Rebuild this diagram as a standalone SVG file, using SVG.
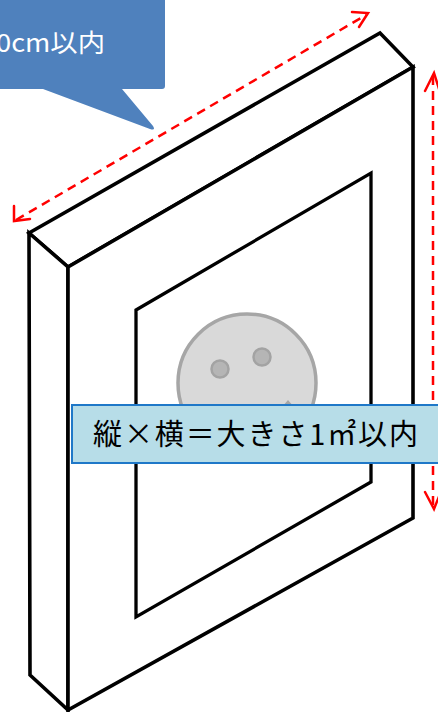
<svg xmlns="http://www.w3.org/2000/svg" width="438" height="712" viewBox="0 0 438 712">
<style>
.frame{fill:#ffffff;stroke:#000000;stroke-width:3.6;stroke-linejoin:miter}
.inner{fill:none;stroke:#000000;stroke-width:3.3;stroke-linejoin:miter}
.dim{fill:none;stroke:#ff0000;stroke-width:2.5;stroke-dasharray:9 6}
.head{fill:none;stroke:#ff0000;stroke-width:2.5;stroke-linecap:round}
.jp{font-family:"Noto Sans CJK JP","Noto Sans",sans-serif}
</style>
<rect x="0" y="0" width="438" height="712" fill="#ffffff"/>
<g id="frame">
  <polygon class="frame" points="29,233 380,33 413,67 68,267"/>
  <polygon class="frame" points="29,233 68,267 68,710 30,675"/>
  <polygon class="frame" points="68,267 413,67 413,518 68,710"/>
  <polygon class="inner" points="136,310 371,173 371,482 136,617"/>
</g>
<g id="socket">
  <circle cx="247" cy="383" r="69" fill="#d9d9d9" stroke="#a6a6a6" stroke-width="3.5"/>
  <circle cx="220" cy="369" r="8.5" fill="#b5b5b5" stroke="#a3a3a3" stroke-width="2.5"/>
  <circle cx="262" cy="357" r="8.5" fill="#b5b5b5" stroke="#a3a3a3" stroke-width="2.5"/>
  <polygon points="282,407 288,400 294,407" fill="#a6a6a6"/>
</g>
<g id="connectors">
  <line class="dim" x1="16" y1="220" x2="366" y2="15"/>
  <polyline class="head" points="14,206 14,221 30,219"/>
  <polyline class="head" points="352,12 368,13 359,27"/>
  <line class="dim" x1="433" y1="76" x2="433" y2="506"/>
  <polyline class="head" points="425,91 434,73 439,89"/>
  <polyline class="head" points="425,492 434,509 440,494"/>
</g>
<g id="label-size">
  <rect x="72" y="405" width="380" height="58" fill="#b7dde8" stroke="#1f78c8" stroke-width="2"/>
  <text class="jp" x="93" y="445" font-size="29" fill="#000000" textLength="325" lengthAdjust="spacing">縦×横＝大きさ1㎡以内</text>
</g>
<g id="callout-depth">
  <path d="M-20,-20 H162 Q165,-20 165,-17 V86 Q165,89 162,89 H122 L153,126 Q156,131 150,129 L43,89 H-20 Z" fill="#4f81bd"/>
  <text class="jp" x="-4" y="52" font-size="25" fill="#ffffff" textLength="109" lengthAdjust="spacingAndGlyphs">0cm以内</text>
</g>
</svg>
